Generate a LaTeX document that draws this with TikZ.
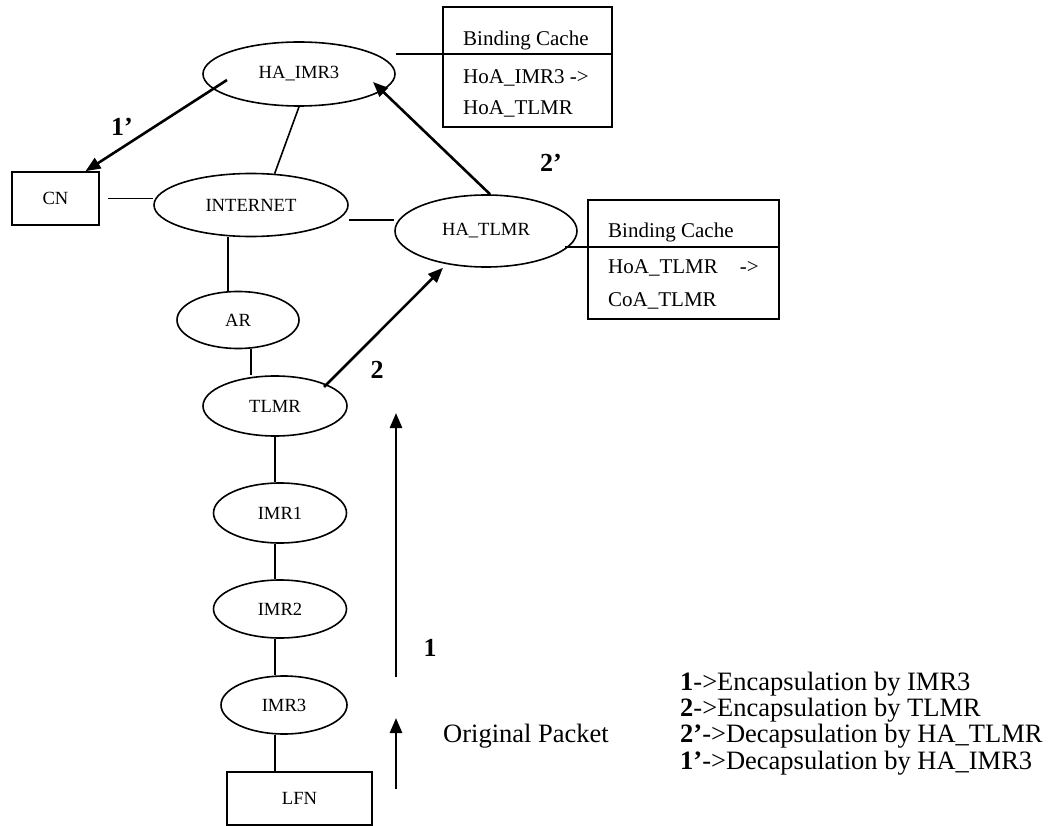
\documentclass[tikz,border=0pt]{standalone}
\usepackage{fontspec}
\setmainfont{Liberation Serif}
\usetikzlibrary{arrows.meta,shapes.geometric,calc}
\begin{document}
\begin{tikzpicture}[x=1pt,y=-1pt,
  router/.style={ellipse,draw,line width=1.6pt,inner sep=0pt,
    font=\fontsize{18.6}{22}\selectfont},
  hostbox/.style={rectangle,draw,line width=1.6pt,inner sep=0pt,
    font=\fontsize{18.6}{22}\selectfont},
  cachebox/.style={rectangle,draw,line width=1.6pt,inner sep=0pt},
  cachetext/.style={anchor=base west,inner sep=0pt,
    font=\fontsize{21}{25}\selectfont},
  link/.style={line width=1.6pt},
  flow/.style={line width=2.6pt,-{Triangle[length=15pt,width=12pt]}},
  steplabel/.style={inner sep=0pt,font=\fontsize{26}{30}\selectfont\bfseries},
  plaintext/.style={inner sep=0pt,font=\fontsize{26.5}{26.3}\selectfont},
  ]
\useasboundingbox (0,0) rectangle (1055,826);

% routers and hosts
\node[router,minimum width=192pt,minimum height=64pt] (haimr3) at (299,74) {HA\_IMR3};
\node[router,minimum width=194pt,minimum height=63pt] (inet) at (251,205) {INTERNET};
\node[router,minimum width=182pt,minimum height=72pt] (hatlmr) at (486,231) {HA\_TLMR};
\node[router,minimum width=122pt,minimum height=57pt] (ar) at (238,320) {AR};
\node[router,minimum width=144pt,minimum height=60pt] (tlmr) at (275,406) {TLMR};
\node[router,minimum width=133pt,minimum height=60pt] (imr1) at (280,513) {IMR1};
\node[router,minimum width=133pt,minimum height=58pt] (imr2) at (280,609) {IMR2};
\node[router,minimum width=126pt,minimum height=58pt] (imr3) at (284,705) {IMR3};
\node[hostbox,minimum width=87pt,minimum height=53pt] (cn) at (55.5,198.5) {CN};
\node[hostbox,minimum width=145pt,minimum height=53pt] (lfn) at (299.5,798.5) {LFN};

% binding caches
\node[cachebox,minimum width=169pt,minimum height=120pt] (cache1) at (527.5,67) {};
\coordinate (c1div) at (443,54);
\draw[link] (c1div) -- (c1div -| cache1.east);
\node[cachetext] (c1title) at (463,46) {Binding Cache};
\node[cachetext] (c1from) at (463,84) {HoA\_IMR3 ->};
\node[cachetext] (c1to) at (463,115) {HoA\_TLMR};

\node[cachebox,minimum width=191pt,minimum height=119pt] (cache2) at (683.5,259.5) {};
\coordinate (c2div) at (588,247);
\draw[link] (c2div) -- (c2div -| cache2.east);
\node[cachetext] (c2title) at (608,238) {Binding Cache};
\node[cachetext] (c2from) at (608,274) {HoA\_TLMR\hspace{22pt}->};
\node[cachetext] (c2to) at (608,307) {CoA\_TLMR};

% links
\coordinate (spine) at (275,0);
\draw[link] (haimr3.east |- c1div) -- (c1div);
\draw[link] ([xshift=-13pt]hatlmr.east |- c2div) -- (c2div);
\draw[link] (haimr3.south) -- (inet.53);
\draw[link] ([xshift=8pt]cn.east) -- (inet.west |- cn.east);
\draw[link] ([yshift=-15pt]inet.east) -- ([yshift=11pt]hatlmr.west);
\draw[link] ([xshift=-10pt]ar.north) -- ([xshift=-10pt]ar.north |- inet.south);
\draw[link] ([xshift=13pt]ar.south) -- ([xshift=13pt]ar.south |- tlmr.north);
\draw[link] (tlmr.south) -- (tlmr.south |- imr1.north);
\draw[link] (imr1.south -| spine) -- (imr2.north -| spine);
\draw[link] (imr2.south -| spine) -- (imr3.north -| spine);
\draw[link] (imr3.south -| spine) -- (lfn.north -| spine);

% packet flow
\draw[flow] ([shift={(-72pt,-6pt)}]haimr3.center) -- ([xshift=30pt]cn.north);
\draw[flow] ([xshift=4pt]hatlmr.north) -- ([shift={(74pt,-8pt)}]haimr3.center);
\draw[flow] ([shift={(49pt,19pt)}]tlmr.center) -- ([xshift=-43pt]hatlmr.south);
\coordinate (up1s) at (396,677);
\coordinate (up1e) at (396,413);
\draw[flow] (up1s) -- (up1e);
\coordinate (up0s) at (396,789);
\coordinate (up0e) at (396,718);
\draw[flow] (up0s) -- (up0e);

% step labels
\node[steplabel] (s1p) at (122,127) {1’};
\node[steplabel] (s2p) at (551,163) {2’};
\node[steplabel] (s2) at (377,370) {2};
\node[steplabel] (s1) at (430,648) {1};
\node[plaintext,anchor=west] (orig) at (443,736) {Original Packet};

% legend
\node[plaintext,anchor=west,align=left] (legend) at (680,723.5)
  {\textbf{1}->Encapsulation by IMR3\\
   \textbf{2}->Encapsulation by TLMR\\
   \textbf{2’}->Decapsulation by HA\_TLMR\\
   \textbf{1’}->Decapsulation by HA\_IMR3};
\end{tikzpicture}
\end{document}
